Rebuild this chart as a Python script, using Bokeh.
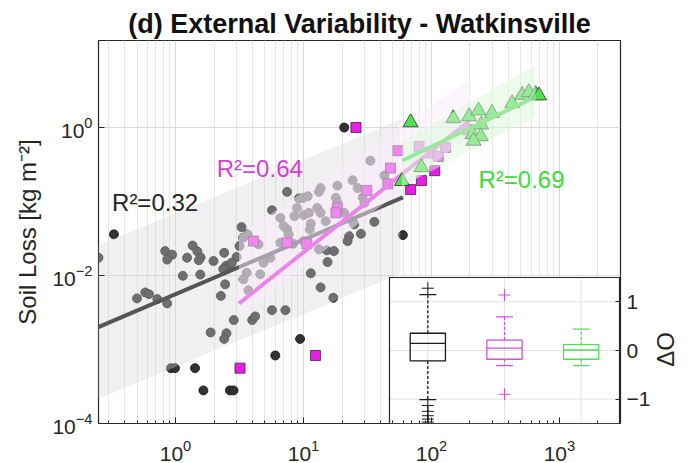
import math
from bokeh.plotting import figure
from bokeh.models import FixedTicker, LinearAxis, Range1d, LinearScale
from bokeh.embed import file_html
from bokeh.resources import INLINE
from bokeh.core.properties import value

# ---------------- data ----------------
# Group 1 (gray circles): x, soil loss [kg m^-2]
gray_x = [0.25, 0.50, 0.58, 0.62, 0.72, 0.86, 0.83, 0.94, 0.86, 1.14, 1.23, 1.36, 1.48, 1.57, 1.52,
          1.56, 1.98, 2.26, 2.40, 2.44, 2.48, 2.69, 2.85, 3.0, 3.16, 3.28, 3.37, 3.66, 3.97, 4.19,
          1.88, 2.50, 2.40, 5.67, 7.22, 0.92, 0.99, 33.3, 24.2, 18.4, 13.6, 26.5, 7.44, 9.2, 9.95,
          10.8, 13.2, 5.67, 6.59, 8.9, 8.5, 10.05, 11.0, 12.8, 13.6, 17.9, 18.4, 29.0, 29.9, 42.9,
          35.8, 28.1, 24.2, 22.7, 22.1, 11.4, 11.2, 7.44, 7.0, 7.66, 10.05, 8.3, 6.59, 13.2, 15.2,
          17.3, 15.4, 11.4, 13.6, 17.1, 2.75, 2.36, 4.45, 4.87, 5.50, 4.59, 3.60, 3.39, 3.71, 24.9,
          20.8, 14.9, 0.33, 20.8, 9.4, 6.02, 1.42, 1.65, 2.66, 2.84, 59.8]
gray_y = [0.0174, 0.0049, 0.0059, 0.0056, 0.0048, 0.0042, 0.0214, 0.0191, 0.0164, 0.0099, 0.0174,
          0.0254, 0.0212, 0.0176, 0.0161, 0.0103, 0.0157, 0.0053, 0.0203, 0.0076, 0.0135, 0.0142,
          0.0025, 0.0178, 0.0250, 0.0451, 0.0324, 0.0360, 0.0025, 0.0028, 0.0017, 0.00166, 0.00139,
          0.0034, 0.0034, 0.00056, 0.00056, 0.356, 0.194, 0.164, 0.152, 0.152, 0.135, 0.110, 0.112,
          0.118, 0.135, 0.0764, 0.0601, 0.0820, 0.0634, 0.0654, 0.0703, 0.0820, 0.0703, 0.112,
          0.0957, 0.114, 0.0957, 0.224, 0.0531, 0.0366, 0.0543, 0.0341, 0.0292, 0.0500, 0.0420,
          0.0420, 0.0465, 0.0360, 0.0292, 0.0269, 0.0277, 0.0226, 0.0219, 0.0214, 0.0152, 0.0107,
          0.0069, 0.0050, 0.0149, 0.0122, 0.0264, 0.0149, 0.0174, 0.0104, 0.0109, 0.0089, 0.0063,
          0.0490, 0.0703, 0.0543, 0.0360, 1.0, 0.00139, 0.00083, 0.00056, 0.00028, 0.00028,
          0.00028, 0.0352]
gray_fit_x = [0.24, 59.8]
gray_fit_y = [0.00195, 0.114]
gray_band_x = [0.24, 57.0]
gray_band_lo = [0.00021, 0.0105]
gray_band_hi = [0.025, 1.27]

# Group 2 (magenta squares)
pink_x = [54.7, 80, 98.7, 113, 129, 47.8, 45.6, 31.2, 18.4, 17.9, 7.44, 10.6, 192, 25.7, 3.19,
          12.4, 68.7, 83.4, 106, 4.06]
pink_y = [0.486, 0.555, 0.451, 0.407, 0.538, 0.283, 0.173, 0.141, 0.082, 0.0703, 0.0277, 0.0269,
          0.93, 1.0, 0.00056, 0.00083, 0.145, 0.192, 0.261, 0.0292]
pink_fit_x = [3.13, 199]
pink_fit_y = [0.00419, 1.24]
pink_band_x = [3.13, 199]
pink_band_lo = [0.00264, 0.78]
pink_band_hi = [0.0348, 4.5]

# Group 3 (green triangles)
green_x = [148, 197, 233, 297, 244, 209, 243, 213, 427, 512, 577, 651, 83.4, 58.8, 68.7, 692]
green_y = [1.33, 1.41, 1.69, 1.56, 1.09, 0.81, 0.76, 0.66, 2.12, 2.75, 2.99, 2.81, 0.290, 0.188,
           1.17, 2.70]
green_fit_x = [58.8, 600]
green_fit_y = [0.356, 2.43]
green_band_x = [58.8, 650]
green_band_lo = [0.16, 1.41]
green_band_hi = [0.65, 7.0]

r2_labels = ["R\u00b2=0.32", "R\u00b2=0.64", "R\u00b2=0.69"]

# Inset box plots (Delta O)
box_pos = [1, 2, 3]
box_q1 = [-0.215, -0.18, -0.18]
box_med = [0.146, 0.05, 0.01]
box_q3 = [0.354, 0.215, 0.12]
box_wlo = [-1.01, -0.31, -0.31]
box_whi = [1.15, 0.69, 0.44]
out_pos = [1, 1, 1, 1, 1, 1, 2, 2]
out_val = [1.28, -1.13, -1.25, -1.34, -1.41, -1.47, 1.14, -0.90]

x_major = [1, 10, 100, 1000]
x_minor = [m * 10.0 ** e for e in range(-1, 4) for m in range(2, 10)]
y_major = [1e-4, 1e-2, 1]
inset_y_ticks = [-1, 0, 1]

# ---------------- styles ----------------
FONT = "Liberation Sans"
C_GRAY, C_PINK, C_GREEN = "#333333", "#e61ee6", "#55dd55"
BOX_COLORS = ["#1a1a1a", "#cc55d4", "#55dd55"]
OUT_COLORS = ["#1a1a1a"] * 6 + ["#cc55d4"] * 2

p = figure(width=699, height=463, x_axis_type="log", y_axis_type="log",
           x_range=(0.25, 3000), y_range=(1e-4, 15),
           output_backend="svg", toolbar_location=None,
           min_border_left=98, min_border_right=79, min_border_top=40, min_border_bottom=40)
p.background_fill_color = "white"
p.border_fill_color = "white"
p.outline_line_color = "#262626"
p.outline_line_width = 1.2

p.title.text = "(d) External Variability - Watkinsville"
p.title.align = "center"
p.title.text_font = FONT
p.title.text_font_size = "27px"
p.title.text_font_style = "bold"
p.title.text_color = "#111111"
p.title.standoff = 3

xa = p.xaxis[0]
xa.ticker = FixedTicker(ticks=x_major, minor_ticks=x_minor)
ya = p.yaxis[0]
ya.ticker = FixedTicker(ticks=y_major, minor_ticks=[])
for ax in (xa, ya):
    ax.axis_line_color = None
    ax.major_tick_in = 6
    ax.major_tick_out = 0
    ax.minor_tick_in = 3
    ax.minor_tick_out = 0
    ax.major_tick_line_color = "#262626"
    ax.minor_tick_line_color = "#262626"
    ax.major_label_text_font = FONT
    ax.major_label_text_font_size = "21px"
    ax.major_label_text_color = "#262626"
xa.major_label_standoff = 16
ya.major_label_standoff = 6
ya.axis_label = "Soil Loss [kg m\u207b\u00b2]"
ya.axis_label_text_font = FONT
ya.axis_label_text_font_size = "24px"
ya.axis_label_text_font_style = "normal"
ya.axis_label_text_color = "#262626"
ya.axis_label_standoff = 8

p.xgrid.grid_line_color = "#d9d9d9"
p.xgrid.minor_grid_line_color = "#e6e6e6"
p.ygrid.grid_line_color = "#d9d9d9"

# group 1
p.scatter(gray_x, gray_y, marker="circle", size=9, fill_color=C_GRAY, line_color="#111111",
          line_width=0.8)
p.varea(x=gray_band_x, y1=gray_band_lo, y2=gray_band_hi, fill_color="#d6d6d6", fill_alpha=0.37)
p.line(gray_fit_x, gray_fit_y, line_color="#555555", line_width=4)

# group 2
p.scatter(pink_x, pink_y, marker="square", size=10, fill_color=C_PINK, line_color="#4d1a4d",
          line_width=0.8)
p.varea(x=pink_band_x, y1=pink_band_lo, y2=pink_band_hi, fill_color="#fcebfc", fill_alpha=0.5)
p.line(pink_fit_x, pink_fit_y, line_color="#ea85ea", line_width=4)

# group 3
p.scatter(green_x, green_y, marker="triangle", size=15, fill_color=C_GREEN, line_color="#1a3a1a",
          line_width=0.8)
p.varea(x=green_band_x, y1=green_band_lo, y2=green_band_hi, fill_color="#dcf7dc", fill_alpha=0.5)
p.line(green_fit_x, green_fit_y, line_color="#9be89b", line_width=4)

# R^2 labels
p.text(x=[0.319, 2.10, 233], y=[0.0957, 0.283, 0.201], text=r2_labels,
       text_color=["#262626", "#d63fd6", "#3ddc3d"], text_font=value(FONT),
       text_font_size="24px", text_align="left", text_baseline="alphabetic")

# ---------------- inset ----------------
p.extra_x_ranges = {"inset": Range1d(-3.295, 3.513)}
p.extra_x_scales = {"inset": LinearScale()}
p.extra_y_ranges = {"inset": Range1d(-1.5, 6.37)}
p.extra_y_scales = {"inset": LinearScale()}
kw = dict(x_range_name="inset", y_range_name="inset")

p.quad(left=[0.5], right=[3.5], bottom=[-1.5], top=[1.5], fill_color="white", line_color=None, **kw)
p.multi_line(xs=[[b, b] for b in box_pos] + [[0.5, 3.5] for _ in inset_y_ticks],
             ys=[[-1.5, 1.5] for _ in box_pos] + [[t, t] for t in inset_y_ticks],
             line_color="#e3e3e3", line_width=1, **kw)
hw, cw = 0.23, 0.11
p.segment(x0=box_pos, y0=box_q3, x1=box_pos, y1=box_whi, line_color=BOX_COLORS,
          line_dash="3 2", line_width=1.3, **kw)
p.segment(x0=box_pos, y0=box_q1, x1=box_pos, y1=box_wlo, line_color=BOX_COLORS,
          line_dash="3 2", line_width=1.3, **kw)
p.segment(x0=[b - cw for b in box_pos], y0=box_whi, x1=[b + cw for b in box_pos], y1=box_whi,
          line_color=BOX_COLORS, line_width=1.3, **kw)
p.segment(x0=[b - cw for b in box_pos], y0=box_wlo, x1=[b + cw for b in box_pos], y1=box_wlo,
          line_color=BOX_COLORS, line_width=1.3, **kw)
p.quad(left=[b - hw for b in box_pos], right=[b + hw for b in box_pos], bottom=box_q1, top=box_q3,
       fill_color=None, line_color=BOX_COLORS, line_width=1.3, **kw)
p.segment(x0=[b - hw for b in box_pos], y0=box_med, x1=[b + hw for b in box_pos], y1=box_med,
          line_color=BOX_COLORS, line_width=1.3, **kw)
p.scatter(out_pos, out_val, marker="cross", size=12, line_color=OUT_COLORS, line_width=1, **kw)
p.quad(left=[0.5], right=[3.5], bottom=[-1.5], top=[1.5], fill_color=None, line_color="#262626",
       line_width=1.2, **kw)

iax = LinearAxis(y_range_name="inset", ticker=FixedTicker(ticks=inset_y_ticks, minor_ticks=[]))
iax.axis_line_color = None
iax.major_tick_in = 5
iax.major_tick_out = 0
iax.major_tick_line_color = "#262626"
iax.major_label_text_font = FONT
iax.major_label_text_font_size = "21px"
iax.major_label_text_color = "#262626"
iax.major_label_standoff = 6
iax.axis_label = "\u2003\u2003\u2009\u2006\u0394O"
iax.axis_label_align = "start"
iax.axis_label_text_font = FONT
iax.axis_label_text_font_size = "24px"
iax.axis_label_text_font_style = "normal"
iax.axis_label_text_color = "#262626"
iax.axis_label_standoff = 12
iax.axis_label_orientation = math.pi / 2
p.add_layout(iax, "right")

open("out.html", "w").write(file_html(p, INLINE))
